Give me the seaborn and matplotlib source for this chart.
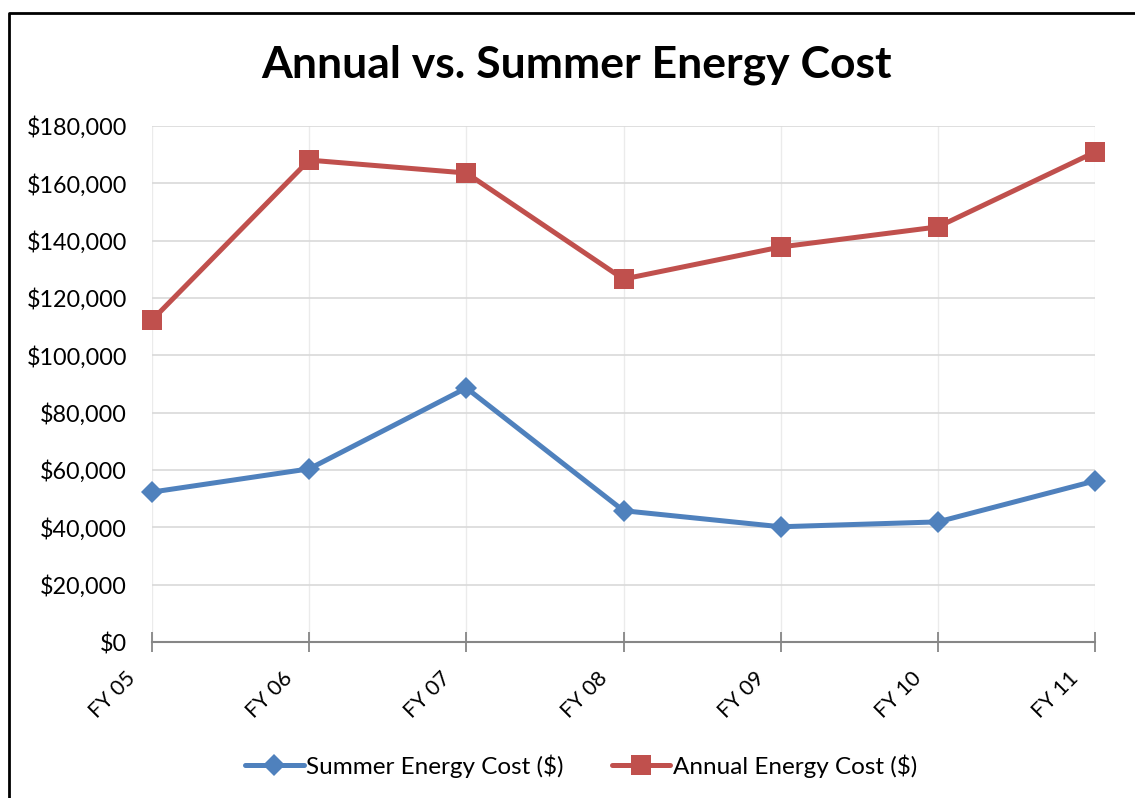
# Annual vs. summer energy cost line chart

import pandas as pd
import seaborn as sns
import matplotlib.pyplot as plt
import matplotlib.transforms as mtransforms
from matplotlib.lines import Line2D

# Data
years = ['FY 05', 'FY 06', 'FY 07', 'FY 08', 'FY 09', 'FY 10', 'FY 11']
summer_cost = [52300, 60400, 88600, 45800, 40200, 41900, 56200]
annual_cost = [112300, 168100, 163600, 126600, 137800, 144800, 170900]
y_ticks = [0, 20000, 40000, 60000, 80000, 100000, 120000, 140000, 160000, 180000]

blue = '#4F81BD'
red = '#C0504D'

sns.set_theme(style='white')
plt.rcParams['font.family'] = ['Lato', 'DejaVu Sans']
plt.rcParams['text.color'] = 'black'
plt.rcParams['xtick.color'] = 'black'
plt.rcParams['ytick.color'] = 'black'

fig = plt.figure(figsize=(11.35, 7.98), dpi=100)
ax = fig.add_axes([152 / 1135, 1 - 642 / 798, (1095 - 152) / 1135, (642 - 126) / 798])

df = pd.DataFrame({'year': years, 'summer': summer_cost, 'annual': annual_cost})

sns.lineplot(data=df, x='year', y='summer', ax=ax, color=blue, linewidth=3.6,
             marker='D', markersize=11, markeredgewidth=0, sort=False, zorder=3,
             clip_on=False)
sns.lineplot(data=df, x='year', y='annual', ax=ax, color=red, linewidth=3.6,
             marker='s', markersize=14, markeredgewidth=0, sort=False, zorder=3,
             clip_on=False)

ax.set_xlim(0, len(years) - 1)
ax.set_ylim(0, 180000)
ax.set_yticks(y_ticks)
ax.set_yticklabels(['${:,}'.format(v) for v in y_ticks], fontsize=16.8)
ax.set_xticks(range(len(years)))
ax.set_xlabel('')
ax.set_ylabel('')

# Excel-like grid and axes
ax.grid(True, axis='y', color='#D9D9D9', linewidth=1.2)
ax.grid(True, axis='x', color='#EBEBEB', linewidth=1.0)
for side in ['top', 'right', 'left']:
    ax.spines[side].set_visible(False)
ax.spines['bottom'].set_color('#868686')
ax.spines['bottom'].set_linewidth(1.5)
ax.tick_params(axis='x', bottom=True, direction='inout', length=14, width=1.3,
               color='#868686', labelbottom=False)
ax.tick_params(axis='y', length=0, pad=18)

# rotated category labels, placed down-left of each tick like the Excel original
label_tf = ax.get_xaxis_transform() + mtransforms.ScaledTranslation(
    -14 / 72, -24 / 72, fig.dpi_scale_trans)
for i, name in enumerate(years):
    ax.text(i, 0, name, transform=label_tf, fontsize=15.5, rotation=45,
            ha='right', va='center', rotation_mode='anchor')

fig.text(0.508, 0.919, 'Annual vs. Summer Energy Cost', ha='center', va='center',
         fontsize=32, fontweight='bold')

handles = [
    Line2D([], [], color=blue, linewidth=3.6, marker='D', markersize=11, markeredgewidth=0),
    Line2D([], [], color=red, linewidth=3.6, marker='s', markersize=14, markeredgewidth=0),
]
fig.legend(handles, ['Summer Energy Cost ($)', 'Annual Energy Cost ($)'],
           loc='center', bbox_to_anchor=(0.512, 0.04), ncol=2, frameon=False,
           fontsize=17.5, handlelength=2.4, handletextpad=0.1, columnspacing=2.0)

# outer chart border (left and top edges visible in the crop)
fig.add_artist(Line2D([9 / 1135, 9 / 1135, 1.0], [0.0, 1 - 13 / 798, 1 - 13 / 798],
                      transform=fig.transFigure, color='black', linewidth=2))

fig.savefig('out.png', dpi=100)
